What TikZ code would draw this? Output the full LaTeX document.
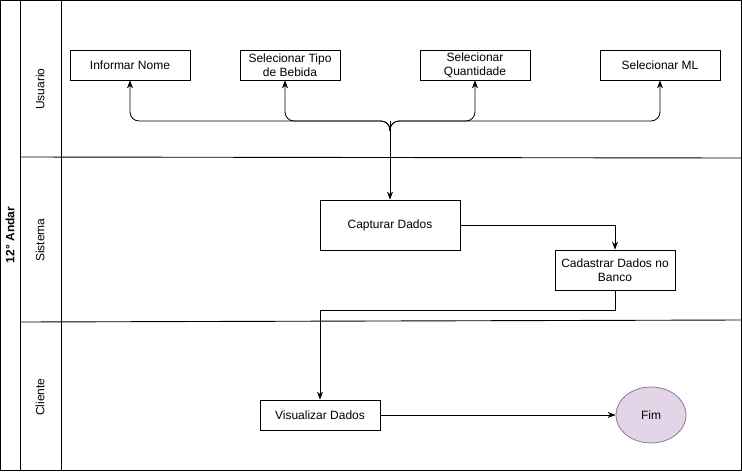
\documentclass[tikz,border=0pt]{standalone}
\usepackage{fontspec}
\setmainfont{Liberation Sans}
\usepackage{xcolor}
\usetikzlibrary{arrows.meta}
\usetikzlibrary{shapes.geometric}
\definecolor{fimfill}{HTML}{E1D5E7}
\definecolor{fimdraw}{HTML}{9673A6}

\begin{document}
\begin{tikzpicture}[x=1pt,y=-1pt,
  font=\fontsize{12}{14}\selectfont,
  task/.style={draw,line width=0.8pt,minimum width=120pt,minimum height=30pt,align=center,inner sep=2pt},
  flow/.style={line width=0.8pt,-{Stealth[length=8pt,width=6pt]}},
  lane/.style={line width=0.9pt}]
\useasboundingbox (0,0) rectangle (742,472);
\draw[lane] (0.5,0.5) rectangle (741,470.5);
\draw[lane] (20,0.5) -- (20,470.5);
\draw[lane] (61,0.5) -- (61,470.5);
\draw[lane] (21,157) -- (741,158);
\draw[lane] (21,322) -- (741,320);
\node[rotate=90,font=\fontsize{12}{14}\selectfont\bfseries] (pool) at (10,235) {12° Andar};
\node[rotate=90] (usuario) at (40,89) {Usuario};
\node[rotate=90] (sistema) at (40,240) {Sistema};
\node[rotate=90] (cliente) at (40,397) {Cliente};
\node[task] (nome) at (130,65) {Informar Nome};
\node[task,minimum width=100pt] (tipo) at (290,65) {Selecionar Tipo\\de Bebida};
\node[task,minimum width=110pt] (qtd) at (475,65) {Selecionar\\Quantidade};
\node[task] (ml) at (660,65) {Selecionar ML};
\node[task,minimum width=140pt,minimum height=50pt] (capt) at (390,225) {Capturar Dados};
\node[task,minimum height=40pt] (cad) at (615,270) {Cadastrar Dados no\\Banco};
\node[task] (vis) at (320,415) {Visualizar Dados};
\node[shape=ellipse,draw=fimdraw,fill=fimfill,line width=0.8pt,minimum width=70pt,minimum height=56pt] (fim) at (651,415) {Fim};
\coordinate (J) at (390,121);
\draw[flow] (J) -- (capt.north);
\draw[flow,rounded corners=9pt] ([yshift=-10pt]J) -- (J) -| (nome.south);
\draw[flow,rounded corners=9pt] ([yshift=-10pt]J) -- (J) -| ([xshift=-5pt]tipo.south);
\draw[flow,rounded corners=9pt] ([yshift=-10pt]J) -- (J) -| (qtd.south);
\draw[flow,rounded corners=9pt] ([yshift=-10pt]J) -- (J) -| (ml.south);
\draw[flow] (capt.east) -| (cad.north);
\draw[flow] (cad.south) -- ++(0,20) -| (vis.north);
\draw[flow] (vis.east) -- (fim.west);
\end{tikzpicture}
\end{document}
